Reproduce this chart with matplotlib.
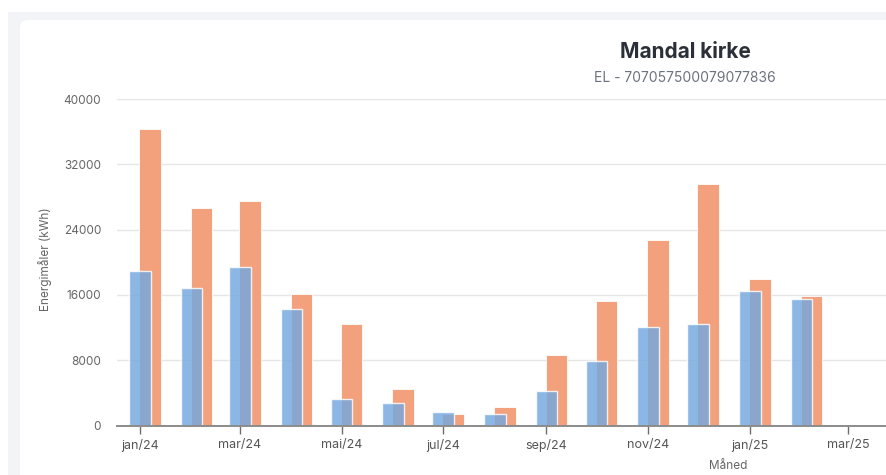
import datetime as dt
import matplotlib
matplotlib.use("Agg")
import matplotlib.pyplot as plt
import matplotlib.dates as mdates
from matplotlib.patches import Rectangle, FancyBboxPatch
from matplotlib.ticker import FuncFormatter

plt.rcParams['font.family'] = ['Inter', 'DejaVu Sans']

# data
months = ['2024-01', '2024-02', '2024-03', '2024-04', '2024-05', '2024-06', '2024-07',
          '2024-08', '2024-09', '2024-10', '2024-11', '2024-12', '2025-01', '2025-02']
blue_vals = [18950, 16850, 19450, 14250, 3200, 2750, 1720, 1380, 4230, 7950, 12120, 12400, 16450, 15480]
orange_vals = [36300, 26700, 27450, 16100, 12480, 4450, 1380, 2300, 8600, 15300, 22700, 29650, 17950, 15850]
yticks = [0, 8000, 16000, 24000, 32000, 40000]
tick_months = ['2024-01', '2024-03', '2024-05', '2024-07', '2024-09', '2024-11', '2025-01', '2025-03']
month_names = ['jan', 'feb', 'mar', 'apr', 'mai', 'jun', 'jul', 'aug', 'sep', 'okt', 'nov', 'des']

title = 'Mandal kirke'
subtitle = 'EL - 707057500079077836'

W, H = 887, 475
fig = plt.figure(figsize=(W / 100, H / 100), dpi=100, facecolor='white')

# page background + card
fig.patches.append(Rectangle((8 / W, -0.1), 1.2, 1 - 12 / H + 0.1,
                             transform=fig.transFigure, facecolor='#f3f4f8',
                             edgecolor='none', zorder=-3))
fig.patches.append(FancyBboxPatch((20 / W, -0.1), 1.2, 1 - 20 / H + 0.1,
                                  boxstyle='round,pad=0,rounding_size=0.009',
                                  mutation_aspect=W / H,
                                  transform=fig.transFigure, facecolor='white',
                                  edgecolor='none', zorder=-2))

# axes run past the right edge of the picture (card is cropped)
ax = fig.add_axes([117 / W, (H - 425.6) / H, (1339 - 117) / W, (425.6 - 99) / H])
ax.set_facecolor('none')


def to_num(m):
    return mdates.date2num(dt.datetime.strptime(m, '%Y-%m'))


x = [to_num(m) for m in months]
x_orange = [v + 6 for v in x]

ax.bar(x_orange, orange_vals, width=13, color='#f2a17c', edgecolor='white',
       linewidth=0.6, zorder=2)
ax.bar(x, blue_vals, width=13, color='#73a8de', alpha=0.82, edgecolor='white',
       linewidth=1.0, zorder=3)

start = to_num('2024-01')
ax.set_xlim(start - 13.8, start + 719.7)
ax.set_ylim(0, 40000)
ax.set_yticks(yticks)

ax.set_xticks([to_num(m) for m in tick_months])
ax.xaxis.set_major_formatter(FuncFormatter(
    lambda v, pos: '%s/%s' % (month_names[mdates.num2date(v).month - 1],
                              mdates.num2date(v).strftime('%y'))))

ax.grid(axis='y', color='#e6e6e6', linewidth=1, zorder=0)
ax.set_axisbelow(True)
for s in ['top', 'right', 'left']:
    ax.spines[s].set_visible(False)
ax.spines['bottom'].set_color('#8c8c8c')
ax.spines['bottom'].set_linewidth(1.4)
ax.spines['bottom'].set_zorder(4)

ax.tick_params(axis='y', length=0, pad=11.5, labelsize=8.5, labelcolor='#666666')
ax.tick_params(axis='x', length=6, width=1, color='#6e6e6e', pad=4,
               labelsize=9, labelcolor='#555555')

ax.set_ylabel('Energimåler (kWh)', fontsize=8.5, color='#666666')
ax.yaxis.set_label_coords(-65 / 1222, 0.51)
ax.set_xlabel('Måned', fontsize=8.5, color='#666666')
ax.xaxis.set_label_coords((728 - 117) / 1222, -(460 - 425.6) / 326.6)

fig.text(685 / W, 1 - 52 / H, title, ha='center', va='center', fontsize=15,
         fontweight='bold', color='#2b2f38')
fig.text(685 / W, 1 - 78 / H, subtitle, ha='center', va='center', fontsize=10,
         color='#6b7280')

fig.savefig('out.png', dpi=100, facecolor=fig.get_facecolor())
